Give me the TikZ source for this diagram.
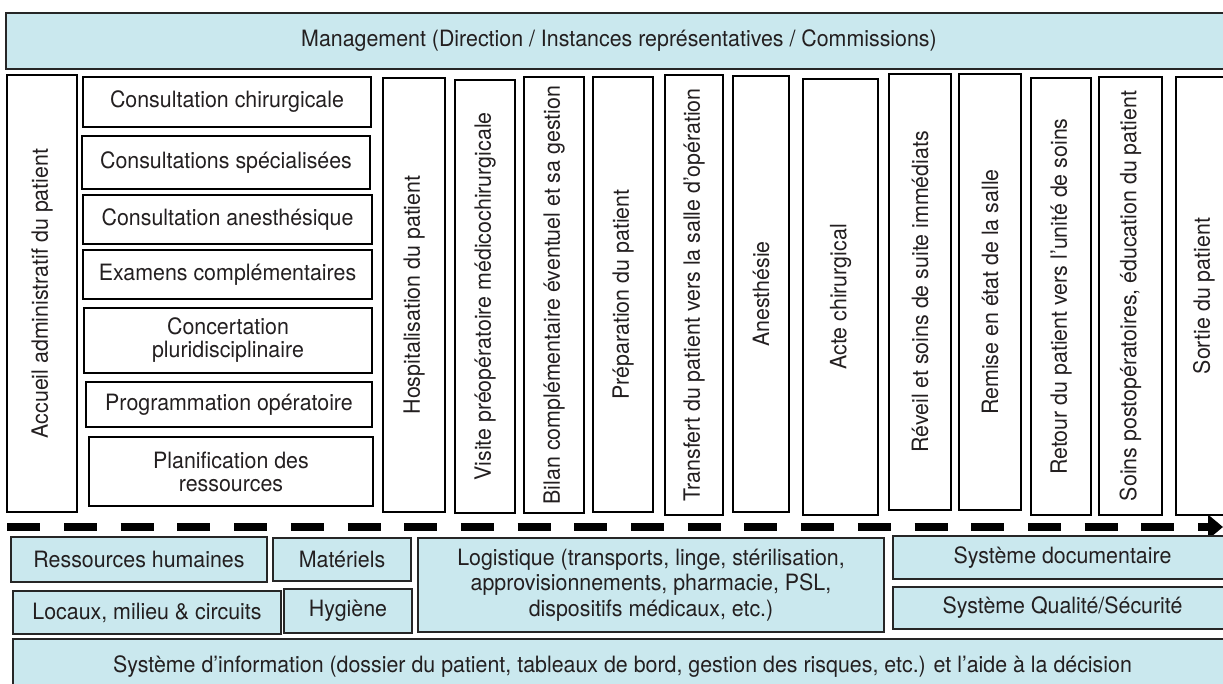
\documentclass[tikz,border=0pt]{standalone}
\usepackage{fontspec}
\setmainfont{TeX Gyre Heros}[FakeStretch=0.95]
\usetikzlibrary{arrows.meta}
\definecolor{bandblue}{HTML}{CAE8EE}
\definecolor{inkgray}{HTML}{231F20}

\begin{document}
\begin{tikzpicture}[x=1pt, y=-1pt,
        every node/.style={font=\fontsize{22.5}{23}\selectfont, text=inkgray, inner sep=2pt},
        stage/.style={draw=black, line width=1.5pt, fill=white, rotate=90},
        task/.style={draw=black, line width=1.5pt, fill=white, align=center},
        band/.style={draw=black!85, line width=1.5pt, fill=bandblue, align=center},
        flow/.style={line width=7.7pt, dash pattern=on 33pt off 23.7pt, -{Triangle[length=15pt, width=24pt]}}]
    \useasboundingbox (0,0) rectangle (1223,684);
    \clip (0,0) rectangle (1223,684);

    % management
    \node [band, minimum width=1226pt, minimum height=56pt] (mgmt) at (619,41) {Management (Direction / Instances représentatives / Commissions)};

    % parcours du patient
    \node [stage, minimum width=437pt, minimum height=70pt] (accueil) at (42,293.5) {Accueil administratif du patient};
    \node [task, minimum width=288pt, minimum height=50pt] (chir) at (227,102) {Consultation chirurgicale};
    \node [task, minimum width=288pt, minimum height=53pt] (spec) at (226,162.5) {Consultations spécialisées};
    \node [task, minimum width=289pt, minimum height=49pt] (anest) at (227.5,219.5) {Consultation anesthésique};
    \node [task, minimum width=289pt, minimum height=49pt] (exam) at (227.5,274.5) {Examens complémentaires};
    \node [task, minimum width=288pt, minimum height=65pt] (concert) at (228,340.5) {Concertation\\pluridisciplinaire};
    \node [task, minimum width=286pt, minimum height=45pt] (prog) at (229,404.5) {Programmation opératoire};
    \node [task, minimum width=284pt, minimum height=69pt] (planif) at (231,471.5) {Planification des\\ressources};
    \node [stage, minimum width=434pt, minimum height=62pt] (hospit) at (414,295) {Hospitalisation du patient};
    \node [stage, minimum width=433pt, minimum height=60pt] (visite) at (485,296.5) {Visite préopératoire médicochirurgicale};
    \node [stage, minimum width=436pt, minimum height=60pt] (bilan) at (554,295) {Bilan complémentaire éventuel et sa gestion};
    \node [stage, minimum width=435pt, minimum height=60pt] (prepa) at (623,294.5) {Préparation du patient};
    \node [stage, minimum width=440pt, minimum height=58pt] (transfert) at (694,295) {Transfert du patient vers la salle d’opération};
    \node [stage, minimum width=436pt, minimum height=56pt] (anesth) at (761,294) {Anesthésie};
    \node [stage, minimum width=436pt, minimum height=75pt] (acte) at (840.5,297) {Acte chirurgical};
    \node [stage, minimum width=436pt, minimum height=62pt] (reveil) at (920,292) {Réveil et soins de suite immédiats};
    \node [stage, minimum width=436pt, minimum height=62pt] (remise) at (990,292) {Remise en état de la salle};
    \node [stage, minimum width=437pt, minimum height=60pt] (retour) at (1061,296.5) {Retour du patient vers l’unité de soins};
    \node [stage, minimum width=438pt, minimum height=63pt] (postop) at (1130.5,296) {Soins postopératoires, éducation du patient};
    \node [stage, minimum width=438pt, minimum height=56pt] (sortie) at (1204,296) {Sortie du patient};

    \coordinate (flowstart) at (7.3,527);
    \coordinate (flowend) at (1223,527);
    \draw [flow] (flowstart) -- (flowend);

    % ressources et supports
    \node [band, minimum width=256pt, minimum height=45pt] (rh) at (139,559.5) {Ressources humaines};
    \node [band, minimum width=138pt, minimum height=43pt] (materiels) at (342,559.5) {Matériels};
    \node [band, minimum width=268pt, minimum height=43pt] (locaux) at (147,612.5) {Locaux, milieu \& circuits};
    \node [band, minimum width=128pt, minimum height=44pt] (hygiene) at (348,611) {Hygiène};
    \node [band, minimum width=466pt, minimum height=94pt, font=\fontsize{22.5}{25.5}\selectfont] (logistique) at (651,585) {Logistique (transports, linge, stérilisation,\\approvisionnements, pharmacie, PSL,\\dispositifs médicaux, etc.)};
    \node [band, minimum width=339pt, minimum height=43pt] (sysdoc) at (1062.5,557.5) {Système documentaire};
    \node [band, minimum width=339pt, minimum height=42pt] (sysqual) at (1062.5,608) {Système Qualité/Sécurité};
    \node [band, minimum width=1219pt, minimum height=56pt] (sysinfo) at (622.5,667) {Système d’information (dossier du patient, tableaux de bord, gestion des risques, etc.) et l’aide à la décision};
\end{tikzpicture}
\end{document}
